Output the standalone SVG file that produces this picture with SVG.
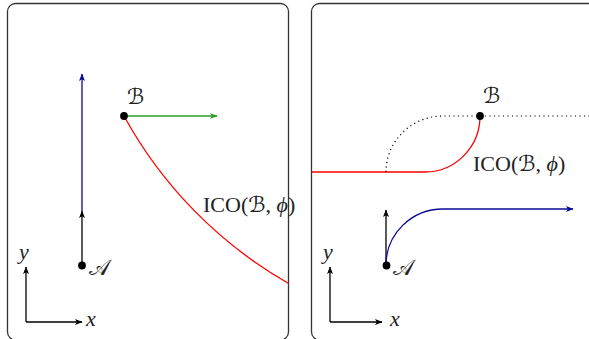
<svg xmlns="http://www.w3.org/2000/svg" width="589" height="339" viewBox="0 0 589 339">
<style>
.panel{fill:#fff;stroke:#333;stroke-width:1.3}
.ln{fill:none;stroke-width:1.3}
.k{stroke:#000}
.b{stroke:#0a0a96}
.g{stroke:#2e9e2e}
.r{stroke:#ff0000}
.dot{fill:none;stroke:#000;stroke-width:1.2;stroke-dasharray:1.2 3.3}
.pt{fill:#000}
text{font-family:"Liberation Serif","Times New Roman",serif;font-size:22px;fill:#222}
.it{font-style:italic}
.cal{font-family:"DejaVu Serif","DejaVu Sans",serif;font-style:normal}
</style>
<defs>
<marker id="ak" viewBox="-9 -5 10 10" refX="0" refY="0" markerWidth="10" markerHeight="10" markerUnits="userSpaceOnUse" orient="auto"><path d="M0.6,0 L-7,-3 L-5.2,0 L-7,3 Z" fill="#000"/></marker>
<marker id="ab" viewBox="-9 -5 10 10" refX="0" refY="0" markerWidth="10" markerHeight="10" markerUnits="userSpaceOnUse" orient="auto"><path d="M0.6,0 L-7,-3 L-5.2,0 L-7,3 Z" fill="#0a0a96"/></marker>
<marker id="ag" viewBox="-9 -5 10 10" refX="0" refY="0" markerWidth="10" markerHeight="10" markerUnits="userSpaceOnUse" orient="auto"><path d="M0.6,0 L-7,-3 L-5.2,0 L-7,3 Z" fill="#2e9e2e"/></marker>
</defs>
<g id="panel-left"><rect class="panel" x="7.5" y="3.5" width="281" height="336.5" rx="8" ry="8"/></g>
<g id="panel-right"><rect class="panel" x="311.5" y="3.5" width="300" height="336.5" rx="8" ry="8"/></g>
<g id="connectors">
<path class="ln k" d="M26,322 V267" marker-end="url(#ak)"/>
<path class="ln k" d="M26,322 H82" marker-end="url(#ak)"/>
<path class="ln k" d="M82,265 V211" marker-end="url(#ak)"/>
<path class="ln b" d="M82,212 V74" marker-end="url(#ab)"/>
<path class="ln g" d="M124,116 H217" marker-end="url(#ag)"/>
<path class="ln r" d="M124,116 A432,432 0 0 0 288.7,283.5"/>
<path class="ln k" d="M330,322 V267" marker-end="url(#ak)"/>
<path class="ln k" d="M330,322 H382" marker-end="url(#ak)"/>
<path class="ln k" d="M386,265 V210" marker-end="url(#ak)"/>
<path class="ln b" d="M386,265 A57,56 0 0 1 443,209 H573" marker-end="url(#ab)"/>
<path class="ln r" d="M312,172 H425 A55,56 0 0 0 480,116"/>
<path class="dot" d="M386,172 A57,56 0 0 1 443,116 H589"/>
</g>
<g id="node-A-left"><circle class="pt" cx="82" cy="265.5" r="3.9"/><text class="cal" x="89" y="275">𝒜</text></g>
<g id="node-B-left"><circle class="pt" cx="124" cy="116" r="3.9"/><text class="cal" x="127" y="104">ℬ</text></g>
<g id="label-left"><text x="203" y="212">ICO(<tspan class="cal">ℬ</tspan>, <tspan class="it">ϕ</tspan>)</text></g>
<g id="axes-left"><text class="it" x="19" y="259">y</text><text class="it" x="86" y="326">x</text></g>
<g id="node-A-right"><circle class="pt" cx="386.5" cy="265.5" r="3.9"/><text class="cal" x="393" y="275">𝒜</text></g>
<g id="node-B-right"><circle class="pt" cx="480" cy="116" r="3.9"/><text class="cal" x="483" y="103">ℬ</text></g>
<g id="label-right"><text x="473" y="171">ICO(<tspan class="cal">ℬ</tspan>, <tspan class="it">ϕ</tspan>)</text></g>
<g id="axes-right"><text class="it" x="323" y="259">y</text><text class="it" x="390" y="326">x</text></g>
</svg>
